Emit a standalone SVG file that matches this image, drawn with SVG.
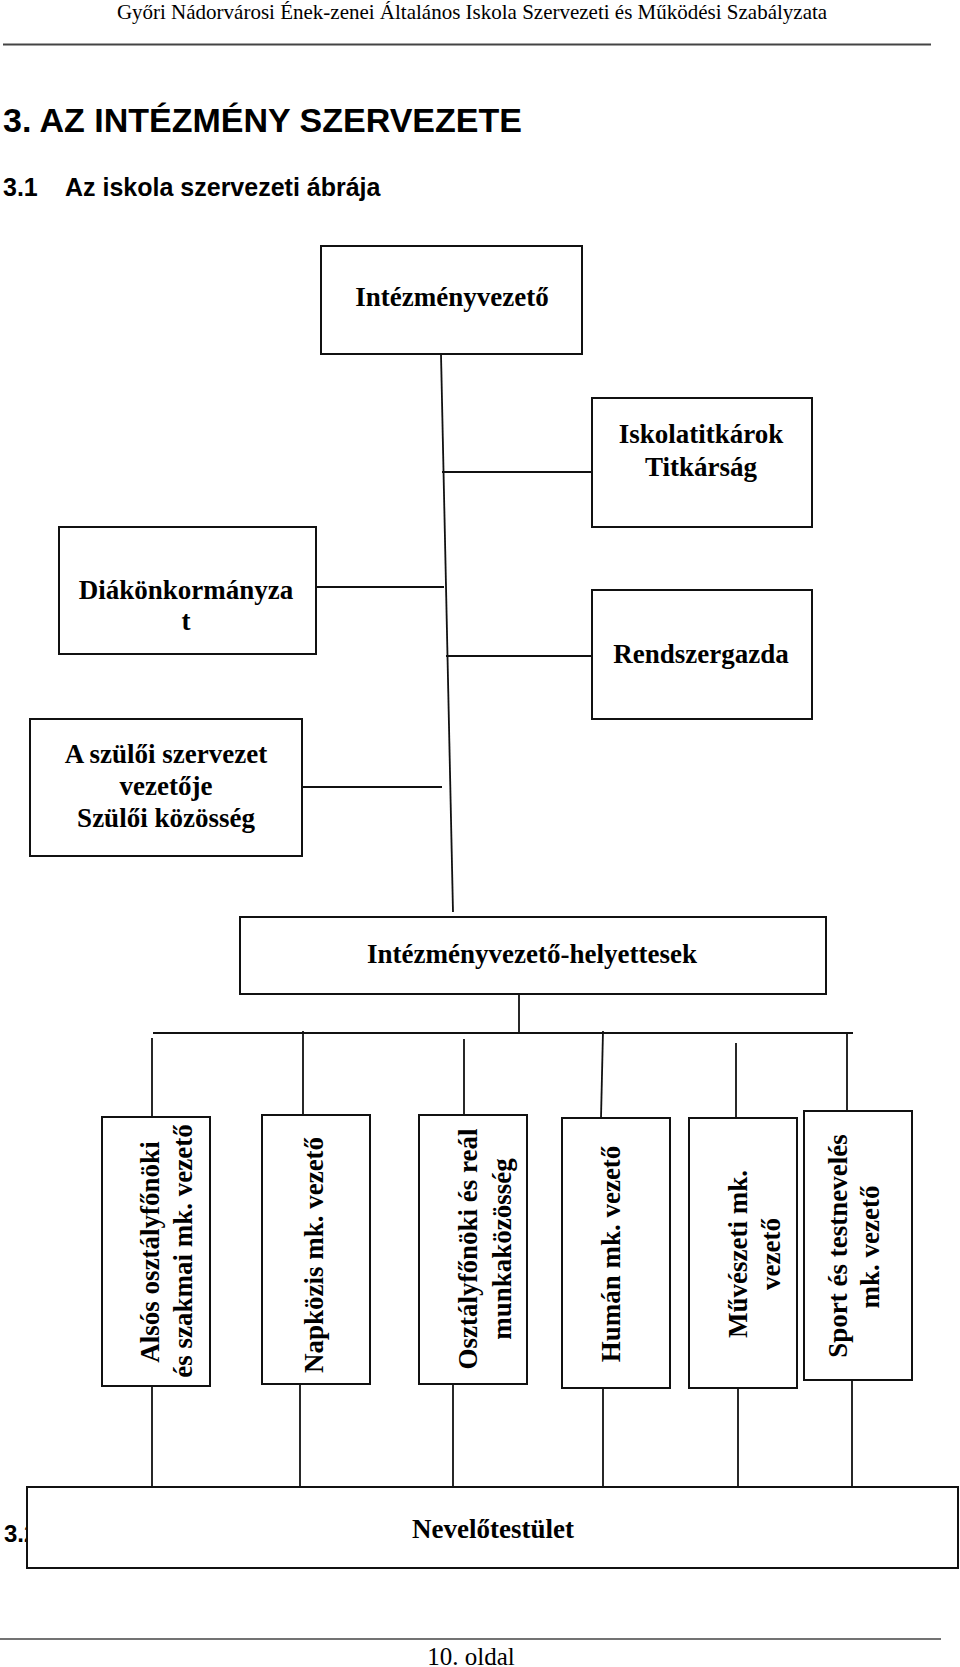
<svg xmlns="http://www.w3.org/2000/svg" width="960" height="1667" viewBox="0 0 960 1667">
<style>
.box{fill:#fff;stroke:#111;stroke-width:2}
.ln{fill:none;stroke:#111;stroke-width:1.8}
.t{font-family:"Liberation Serif","Times New Roman",serif;font-weight:bold;font-size:27px;fill:#000;text-anchor:middle}
.h{font-family:"Liberation Sans",Arial,sans-serif;font-weight:bold;fill:#000}
.hdr{font-family:"Liberation Serif","Times New Roman",serif;fill:#000}
</style>
<rect width="960" height="1667" fill="#fff"/>
<g id="page-header">
<text class="hdr" x="472" y="19" font-size="21" text-anchor="middle">Győri Nádorvárosi Ének-zenei Általános Iskola Szervezeti és Működési Szabályzata</text>
<line x1="3" y1="44.5" x2="931" y2="44.5" stroke="#444" stroke-width="2"/>
</g>
<g id="headings">
<text class="h" x="3" y="132" font-size="34">3. AZ INTÉZMÉNY SZERVEZETE</text>
<text class="h" x="3" y="196" font-size="25">3.1</text>
<text class="h" x="65" y="196" font-size="25">Az iskola szervezeti ábrája</text>
<text class="h" x="4" y="1542" font-size="24">3.2</text>
</g>
<g id="connectors">
<line class="ln" x1="441" y1="354" x2="453" y2="912" stroke-width="1.4"/>
<line class="ln" x1="442" y1="472" x2="592" y2="472"/>
<line class="ln" x1="316" y1="587" x2="444" y2="587"/>
<line class="ln" x1="446" y1="656" x2="592" y2="656"/>
<line class="ln" x1="302" y1="787" x2="442" y2="787"/>
<line class="ln" x1="519" y1="994" x2="519" y2="1033"/>
<line class="ln" x1="153" y1="1033" x2="853" y2="1033"/>
<line class="ln" x1="152" y1="1038" x2="152" y2="1117"/>
<line class="ln" x1="303" y1="1031" x2="303" y2="1115"/>
<line class="ln" x1="464" y1="1039" x2="464" y2="1115"/>
<line class="ln" x1="603" y1="1031" x2="601" y2="1118"/>
<line class="ln" x1="736" y1="1043" x2="736" y2="1118"/>
<line class="ln" x1="847" y1="1033" x2="847" y2="1111"/>
<line class="ln" x1="152" y1="1386" x2="152" y2="1490"/>
<line class="ln" x1="300" y1="1384" x2="300" y2="1487"/>
<line class="ln" x1="453" y1="1384" x2="453" y2="1487"/>
<line class="ln" x1="603" y1="1388" x2="603" y2="1487"/>
<line class="ln" x1="738" y1="1388" x2="738" y2="1487"/>
<line class="ln" x1="852" y1="1380" x2="852" y2="1487"/>
</g>
<g id="intezmenyvezeto">
<rect class="box" x="321" y="246" width="261" height="108"/>
<text class="t" x="452" y="306">Intézményvezető</text>
</g>
<g id="iskolatitkarok">
<rect class="box" x="592" y="398" width="220" height="129"/>
<text class="t" x="701" y="443">Iskolatitkárok</text>
<text class="t" x="701" y="476">Titkárság</text>
</g>
<g id="diakonkormanyzat">
<rect class="box" x="59" y="527" width="257" height="127"/>
<text class="t" x="186" y="599">Diákönkormányza</text>
<text class="t" x="186" y="630">t</text>
</g>
<g id="rendszergazda">
<rect class="box" x="592" y="590" width="220" height="129"/>
<text class="t" x="701" y="663">Rendszergazda</text>
</g>
<g id="szuloi">
<rect class="box" x="30" y="719" width="272" height="137"/>
<text class="t" x="166" y="763">A szülői szervezet</text>
<text class="t" x="166" y="795">vezetője</text>
<text class="t" x="166" y="827">Szülői közösség</text>
</g>
<g id="helyettesek">
<rect class="box" x="240" y="917" width="586" height="77"/>
<text class="t" x="532" y="963">Intézményvezető-helyettesek</text>
</g>
<g id="also">
<rect class="box" x="102" y="1117" width="108" height="269"/>
<text class="t" transform="translate(159,1252) rotate(-90)">Alsós osztályfőnöki</text>
<text class="t" transform="translate(192,1251) rotate(-90)">és szakmai mk. vezető</text>
</g>
<g id="napkozis">
<rect class="box" x="262" y="1115" width="108" height="269"/>
<text class="t" transform="translate(323,1255) rotate(-90)">Napközis mk. vezető</text>
</g>
<g id="osztalyfonoki">
<rect class="box" x="419" y="1115" width="108" height="269"/>
<text class="t" transform="translate(477,1249) rotate(-90)">Osztályfőnöki és reál</text>
<text class="t" transform="translate(511,1249) rotate(-90)">munkaközösség</text>
</g>
<g id="human">
<rect class="box" x="562" y="1118" width="108" height="270"/>
<text class="t" transform="translate(620,1254) rotate(-90)">Humán mk. vezető</text>
</g>
<g id="muveszeti">
<rect class="box" x="689" y="1118" width="108" height="270"/>
<text class="t" transform="translate(747,1254) rotate(-90)">Művészeti mk.</text>
<text class="t" transform="translate(780,1254) rotate(-90)">vezető</text>
</g>
<g id="sport">
<rect class="box" x="804" y="1111" width="108" height="269"/>
<text class="t" transform="translate(847,1246) rotate(-90)">Sport és testnevelés</text>
<text class="t" transform="translate(879,1247) rotate(-90)">mk. vezető</text>
</g>
<g id="nevelotestulet">
<rect class="box" x="27" y="1487" width="931" height="81"/>
<text class="t" x="493" y="1538">Nevelőtestület</text>
</g>
<g id="page-footer">
<line x1="0" y1="1639" x2="941" y2="1639" stroke="#444" stroke-width="1.6"/>
<text class="hdr" x="471" y="1665" font-size="25" text-anchor="middle">10. oldal</text>
</g>
</svg>
